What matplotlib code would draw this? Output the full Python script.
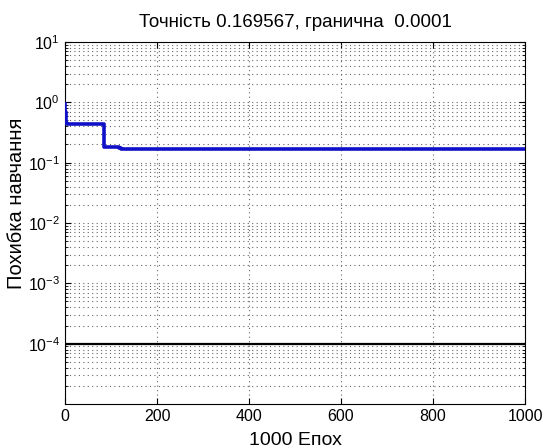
import matplotlib
matplotlib.use("Agg")
import matplotlib.pyplot as plt
from matplotlib.ticker import LogLocator, NullFormatter

plt.rcParams['font.family'] = ['Liberation Sans', 'DejaVu Sans']
plt.rcParams['mathtext.fontset'] = 'custom'
plt.rcParams['mathtext.rm'] = 'Liberation Sans'

epochs = [0, 1, 3, 5, 83, 85, 100, 118, 122, 1000]
perf = [0.95, 0.7, 0.46, 0.445, 0.44, 0.184, 0.182, 0.178, 0.1696, 0.169567]
goal = 0.0001
title = "Точність 0.169567, гранична  0.0001"
xlabel = "1000 Епох"
ylabel = "Похибка навчання"
xticks = [0, 200, 400, 600, 800, 1000]
yticks = [1e-4, 1e-3, 1e-2, 1e-1, 1e0, 1e1]

fig = plt.figure(figsize=(5.43, 4.48), dpi=100)
ax = fig.add_axes([0.1197, 0.0982, 0.8472, 0.8081])
ax.set_yscale('log')
ax.step(epochs, perf, where='post', color='#1010c8', linewidth=2.6, zorder=3)
ax.axhline(goal, color='black', linewidth=1.6, zorder=3)
ax.set_xlim(0, 1000)
ax.set_ylim(1e-5, 1e1)
ax.set_xticks(xticks)
ax.set_yticks(yticks)
ax.yaxis.set_minor_locator(LogLocator(base=10, subs=range(2, 10), numticks=20))
ax.yaxis.set_minor_formatter(NullFormatter())
gs = dict(linestyle=(0, (1, 3)), color='#666666', linewidth=0.8)
ax.grid(True, which='major', **gs)
ax.grid(True, which='minor', axis='y', **gs)
ax.tick_params(which='both', direction='in', top=True, right=True, labelsize=11.5, colors='black')
ax.tick_params(which='major', length=4)
ax.tick_params(which='minor', length=2)
ax.set_title(title, fontsize=13.5, pad=11)
ax.set_xlabel(xlabel, fontsize=14, labelpad=6)
ax.set_ylabel(ylabel, fontsize=14.5)
ax.yaxis.set_label_coords(-0.085, 0.555)
fig.savefig('out.png', dpi=100)
